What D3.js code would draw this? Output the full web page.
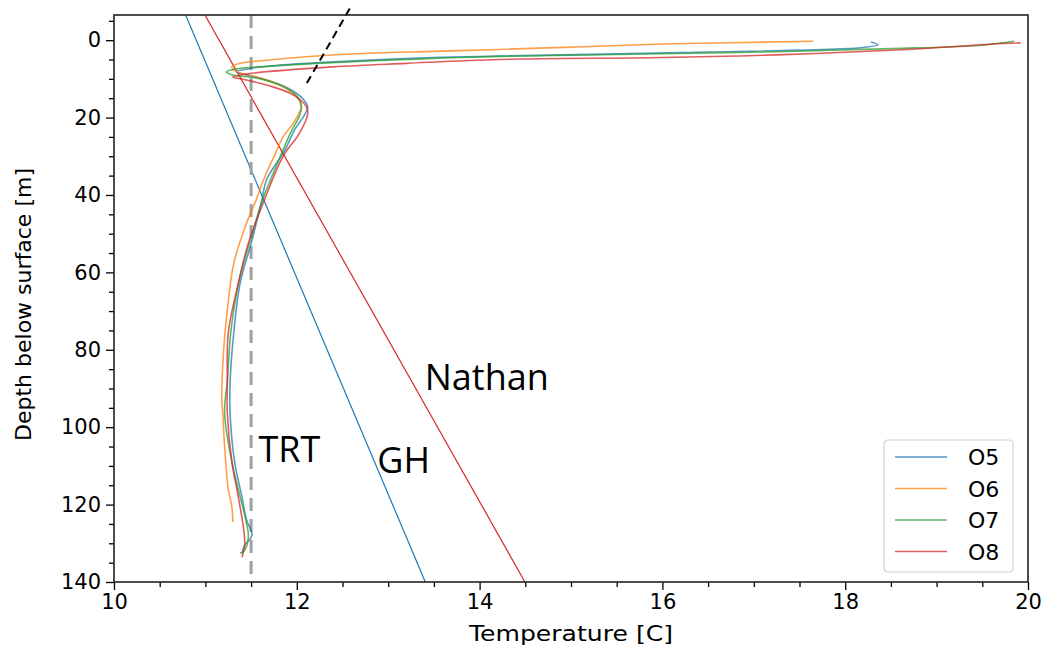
<!DOCTYPE html>
<html>
<head>
<meta charset="utf-8">
<script src="https://cdn.jsdelivr.net/npm/d3@7"></script>
<style>
  html, body { margin: 0; padding: 0; background: #fff; }
  svg { display: block; }
  text { font-family: "DejaVu Sans", sans-serif; fill: #000; }
  .note { font-family: "Open Sans", "Noto Sans", sans-serif; }
</style>
</head>
<body>
<svg id="chart" width="1042" height="647"></svg>
<script>
// Temperature profiles: [temperature °C, depth m]
const O5 = [[18.28,0.5],[18.36,1.2],[18.20,1.9],[16.20,3.2],[14.22,4.1],[13.49,4.5],[12.40,5.6],[11.80,6.5],[11.49,7.3],[11.34,8.2],[11.45,9.0],[11.70,10.5],[11.95,13.0],[12.08,15.5],[12.12,17.3],[12.08,19.5],[11.98,23.0],[11.87,28.4],[11.67,36.0],[11.62,41.0],[11.51,51.7],[11.38,62.8],[11.31,75.7],[11.27,88.6],[11.27,96.4],[11.32,109.0],[11.40,118.0],[11.45,124.0],[11.51,127.9],[11.43,130.5],[11.40,132.6]];
const O6 = [[17.65,0.3],[16.00,1.0],[15.00,1.8],[14.20,2.4],[13.50,2.9],[12.77,3.4],[12.10,4.3],[11.67,5.2],[11.38,6.0],[11.29,6.9],[11.33,8.0],[11.56,9.5],[11.89,12.5],[12.03,15.5],[12.05,17.2],[11.96,21.5],[11.85,25.0],[11.77,29.0],[11.62,37.0],[11.56,41.0],[11.45,47.3],[11.31,57.7],[11.24,69.8],[11.20,80.0],[11.18,93.0],[11.19,96.4],[11.21,105.0],[11.25,116.0],[11.29,120.6],[11.30,124.5]];
const O7 = [[19.85,0.3],[19.50,1.3],[18.50,2.2],[17.25,3.0],[15.50,3.7],[14.22,4.2],[13.30,4.9],[12.22,6.0],[11.60,6.9],[11.38,7.3],[11.23,8.2],[11.30,9.0],[11.56,9.8],[11.85,12.0],[12.00,14.5],[12.05,17.2],[12.03,19.5],[11.93,24.0],[11.82,30.0],[11.63,41.0],[11.50,51.0],[11.37,62.0],[11.28,75.0],[11.24,88.0],[11.21,96.4],[11.29,109.0],[11.38,118.0],[11.45,124.8],[11.47,128.3],[11.43,131.8],[11.38,132.6]];
const O8 = [[19.92,0.7],[19.60,1.0],[19.30,1.5],[18.50,2.6],[17.25,3.8],[16.00,4.5],[14.22,5.0],[13.20,6.0],[12.40,6.9],[11.49,8.6],[11.30,9.5],[11.45,10.3],[11.70,11.8],[11.95,14.0],[12.10,17.0],[12.12,19.0],[12.03,24.0],[11.85,30.0],[11.65,41.0],[11.47,52.5],[11.36,62.8],[11.25,75.7],[11.24,88.6],[11.24,96.4],[11.29,109.0],[11.36,118.0],[11.42,126.7],[11.43,130.5],[11.40,133.6]];

const seriesNames = ["O5", "O6", "O7", "O8"];
const seriesColors = ["#1f77b4", "#ff7f0e", "#2ca02c", "#d62728"];

// Reference geotherms: surface temperature (°C) and gradient (°C/m)
const geoNames = ["GH", "Nathan"];
const geoSurface = [10.9, 11.15];
const geoGradient = [0.0179, 0.0239];
const geoColors = ["#1f77b4", "#d62728"];

// TRT undisturbed ground temperature
const trtTemp = 11.5;
// Dashed marker line near the thermocline: [temperature, depth]
const markLine = [[12.11, 11.1], [12.60, -9.0]];

// Annotation labels: [text, temperature, depth]
const notes = [["Nathan", 13.4, 90.5], ["TRT", 11.58, 109.0], ["GH", 12.88, 111.8]];

const xTicks = [10, 12, 14, 16, 18, 20];
const yTicks = [0, 20, 40, 60, 80, 100, 120, 140];

const svg = d3.select("#chart");
const M = { left: 114, right: 1028, top: 15, bottom: 582 };

const x = d3.scaleLinear().domain([10, 20]).range([M.left, M.right]);
const y = d3.scaleLinear().domain([-6.5, 140]).range([M.top, M.bottom]);

svg.append("defs").append("clipPath").attr("id", "plot")
  .append("rect").attr("x", M.left).attr("y", M.top)
  .attr("width", M.right - M.left).attr("height", M.bottom - M.top);

const plot = svg.append("g").attr("clip-path", "url(#plot)");

// geotherm lines
const d0 = y.domain()[0], d1 = y.domain()[1];
geoNames.forEach((n, i) => {
  const pts = [d0, d1].map(d => [geoSurface[i] + geoGradient[i] * d, d]);
  plot.append("line")
    .attr("x1", x(pts[0][0])).attr("y1", y(pts[0][1]))
    .attr("x2", x(pts[1][0])).attr("y2", y(pts[1][1]))
    .attr("stroke", geoColors[i]).attr("stroke-width", 1.2);
});

// TRT vertical line
plot.append("line")
  .attr("x1", x(trtTemp)).attr("x2", x(trtTemp))
  .attr("y1", M.top).attr("y2", M.bottom)
  .attr("stroke", "#a0a0a0").attr("stroke-width", 3)
  .attr("stroke-dasharray", "13,8");

// measured profiles
const line = d3.line().x(d => x(d[0])).y(d => y(d[1])).curve(d3.curveCatmullRom.alpha(0.5));
[O5, O6, O7, O8].forEach((data, i) => {
  plot.append("path").datum(data)
    .attr("d", line)
    .attr("fill", "none")
    .attr("stroke", seriesColors[i])
    .attr("stroke-opacity", 0.75)
    .attr("stroke-width", 1.6);
});

// dashed marker (drawn above the frame as well)
svg.append("line")
  .attr("x1", x(markLine[0][0])).attr("y1", y(markLine[0][1]))
  .attr("x2", x(markLine[1][0])).attr("y2", y(markLine[1][1]))
  .attr("stroke", "#000").attr("stroke-width", 2)
  .attr("stroke-dasharray", "8,5");

// axes
const xAxis = svg.append("g").attr("transform", `translate(0,${M.bottom})`)
  .call(d3.axisBottom(x).tickValues(xTicks).tickFormat(d3.format("d")).tickSize(8).tickPadding(4));
svg.append("g").attr("transform", `translate(0,${M.bottom})`)
  .call(d3.axisBottom(x).tickValues(d3.range(10, 20.01, 0.5).filter(v => v % 2 !== 0)).tickFormat("").tickSize(5))
  .call(g => g.select(".domain").remove());
const yAxis = svg.append("g").attr("transform", `translate(${M.left},0)`)
  .call(d3.axisLeft(y).tickValues(yTicks).tickSize(8).tickPadding(5));
svg.append("g").attr("transform", `translate(${M.left},0)`)
  .call(d3.axisLeft(y).tickValues(d3.range(-5, 141, 5).filter(v => v % 20 !== 0)).tickFormat("").tickSize(5))
  .call(g => g.select(".domain").remove());

svg.selectAll(".tick line").attr("stroke", "#000").attr("stroke-width", 1.3);
svg.selectAll(".domain").remove();
xAxis.selectAll("text").attr("font-size", 21).attr("font-family", "DejaVu Sans");
yAxis.selectAll("text").attr("font-size", 21).attr("font-family", "DejaVu Sans");

// frame
svg.append("rect")
  .attr("x", M.left).attr("y", M.top)
  .attr("width", M.right - M.left).attr("height", M.bottom - M.top)
  .attr("fill", "none").attr("stroke", "#222").attr("stroke-width", 1.6);

// axis titles
svg.append("text")
  .attr("x", (M.left + M.right) / 2).attr("y", 641)
  .attr("text-anchor", "middle").attr("font-size", 22)
  .attr("textLength", 204).attr("lengthAdjust", "spacingAndGlyphs")
  .text("Temperature [C]");
svg.append("text")
  .attr("transform", `translate(31,${(M.top + M.bottom) / 2 + 6}) rotate(-90)`)
  .attr("text-anchor", "middle").attr("font-size", 22)
  .text("Depth below surface [m]");

// annotation labels
notes.forEach(([t, tx, dy]) => {
  svg.append("text").attr("class", "note")
    .attr("x", x(tx)).attr("y", y(dy))
    .attr("font-size", 36)
    .text(t);
});

// legend
const lg = svg.append("g").attr("transform", "translate(884,440)");
lg.append("rect").attr("width", 129).attr("height", 132).attr("rx", 4)
  .attr("fill", "#fff").attr("fill-opacity", 0.8)
  .attr("stroke", "#d0d0d0").attr("stroke-width", 1.2);
seriesNames.forEach((n, i) => {
  const yy = 17 + i * 31.5;
  lg.append("line").attr("x1", 11).attr("x2", 63).attr("y1", yy).attr("y2", yy)
    .attr("stroke", seriesColors[i]).attr("stroke-opacity", 0.75).attr("stroke-width", 1.6);
  lg.append("text").attr("x", 84).attr("y", yy + 8).attr("font-size", 22).text(n);
});
</script>
</body>
</html>
